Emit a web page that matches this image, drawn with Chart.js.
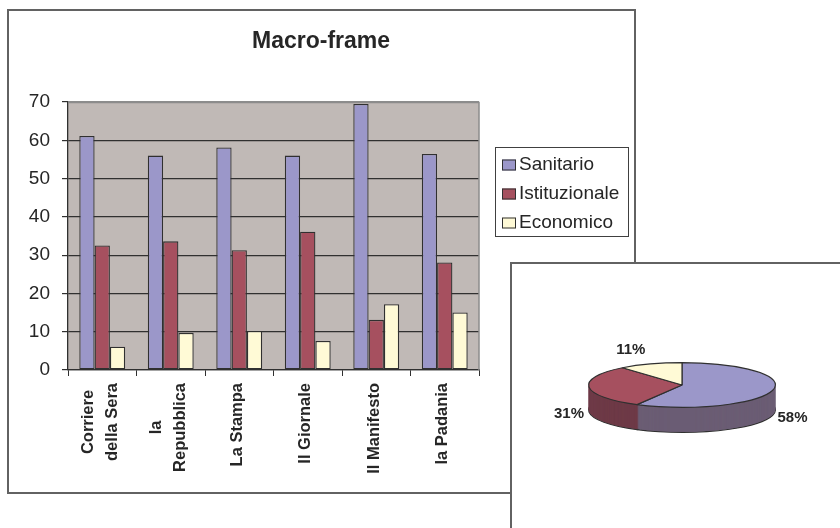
<!DOCTYPE html>
<html>
<head>
<meta charset="utf-8">
<script src="https://cdn.jsdelivr.net/npm/chart.js@4/dist/chart.umd.min.js"></script>
<style>
  html, body { margin:0; padding:0; background:#fff; width:840px; height:528px; overflow:hidden; }
  #barBox { position:absolute; left:7px; top:9px; width:629px; height:485px; box-sizing:border-box; border:2px solid #626262; background:#fff; z-index:0; }
  #barCanvas { position:absolute; left:0; top:0; z-index:1; }
  #pieBox { position:absolute; left:510px; top:262px; width:400px; height:400px; box-sizing:border-box; border:2px solid #626262; background:#fff; z-index:2; }
  #pieCanvas { position:absolute; left:511px; top:263px; z-index:3; }
</style>
</head>
<body>
<div id="barBox"></div>
<canvas id="barCanvas" width="840" height="528"></canvas>
<div id="pieBox"></div>
<canvas id="pieCanvas" width="329" height="265"></canvas>
<script>
// ---------- data ----------
const categories = [['Corriere', 'della Sera'], ['la', 'Repubblica'], ['La Stampa'], ['Il Giornale'], ['Il Manifesto'], ['la Padania']];
const seriesNames = ['Sanitario', 'Istituzionale', 'Economico'];
const sanitario     = [61.1, 56.0, 58.1, 56.0, 69.5, 56.4];
const istituzionale = [32.5, 33.6, 31.3, 36.1, 13.1, 28.1];
const economico     = [6.1, 9.7, 10.2, 7.6, 17.2, 15.0];
const yMin = 0, yMax = 70, yStep = 10;
const chartTitle = 'Macro-frame';
const pieLabels = ['Sanitario', 'Istituzionale', 'Economico'];
const pieShares = [58, 31, 11];

// ---------- styles ----------
const FONT = '"Liberation Sans", Arial, Helvetica, sans-serif';
const TEXT = '#262626';
const LINE = '#303030';
const fills = ['#9b97c9', '#a6505f', '#fffad6'];
const sideFills = ['#6b5d74', '#6e3a47', '#b0ad90'];
const plotBg = '#c0b9b6';

// ---------- bar chart ----------
const barDecor = {
  id: 'barDecor',
  beforeDraw(chart) {
    const { ctx, chartArea: a } = chart;
    ctx.save();
    ctx.fillStyle = plotBg;
    ctx.fillRect(a.left, a.top, a.right - a.left, a.bottom - a.top);
    ctx.restore();
  },
  afterDraw(chart) {
    const { ctx, chartArea: a } = chart;
    ctx.save();
    // plot frame (top/right)
    ctx.strokeStyle = '#8c8c8c';
    ctx.lineWidth = 1.5;
    ctx.beginPath();
    ctx.moveTo(a.left, a.top + 0.5);
    ctx.lineTo(a.right, a.top + 0.5);
    ctx.lineTo(a.right, a.bottom);
    ctx.stroke();

    // title
    ctx.fillStyle = TEXT;
    ctx.font = 'bold 23px ' + FONT;
    ctx.textAlign = 'center';
    ctx.textBaseline = 'alphabetic';
    ctx.fillText(chartTitle, 321, 47.5);

    // legend
    const lx = 495, ly = 147, lw = 134, lh = 90;
    ctx.fillStyle = '#fff';
    ctx.fillRect(lx, ly, lw, lh);
    ctx.strokeStyle = '#404040';
    ctx.lineWidth = 1;
    ctx.strokeRect(lx + 0.5, ly + 0.5, lw - 1, lh - 1);
    ctx.font = '19px ' + FONT;
    ctx.textAlign = 'left';
    chart.data.datasets.forEach((ds, i) => {
      const base = 169.5 + i * 29;
      ctx.fillStyle = ds.backgroundColor;
      ctx.fillRect(502, base - 10, 14, 11);
      ctx.strokeStyle = LINE;
      ctx.lineWidth = 1;
      ctx.strokeRect(502.5, base - 9.5, 13, 10);
      ctx.fillStyle = TEXT;
      ctx.fillText(ds.label, 519, base);
    });

    // category labels (rotated, lines centred)
    const xs = chart.scales.x;
    ctx.font = 'bold 16.5px ' + FONT;
    ctx.fillStyle = TEXT;
    categories.forEach((lines, i) => {
      const cx = xs.getPixelForValue(i) - 2;
      const maxW = Math.max(...lines.map(l => ctx.measureText(l).width));
      const cy = a.bottom + 13 + maxW / 2;
      lines.forEach((l, j) => {
        ctx.save();
        ctx.translate(cx + (j - (lines.length - 1) / 2) * 24, cy);
        ctx.rotate(-Math.PI / 2);
        ctx.textAlign = 'center';
        ctx.textBaseline = 'middle';
        ctx.fillText(l, 0, 0);
        ctx.restore();
      });
    });
    ctx.restore();
  }
};

const seriesValues = [sanitario, istituzionale, economico];
new Chart(document.getElementById('barCanvas'), {
  type: 'bar',
  data: {
    labels: categories.map(c => c.join(' ')),
    datasets: seriesNames.map((name, i) => ({
      label: name,
      data: seriesValues[i],
      backgroundColor: fills[i],
      borderColor: LINE,
      borderWidth: 1.3,
      borderSkipped: false,
      categoryPercentage: 0.67,
      barPercentage: 1.0
    }))
  },
  options: {
    responsive: false,
    animation: false,
    events: [],
    layout: { padding: { left: 28, right: 361, top: 102, bottom: 158 } },
    plugins: { legend: { display: false }, title: { display: false }, tooltip: { enabled: false } },
    scales: {
      x: {
        offset: true,
        grid: { display: true, drawOnChartArea: false, drawTicks: true, tickLength: 6, tickColor: LINE, offset: true },
        border: { display: true, color: LINE, width: 1.3 },
        ticks: { display: false },
        afterFit(scale) { scale.height = 0; }
      },
      y: {
        min: yMin, max: yMax,
        ticks: { stepSize: yStep, color: TEXT, padding: 12, font: { family: FONT, size: 19 } },
        grid: {
          color: ctx => (ctx.tick && ctx.tick.value === yMax) ? '#8c8c8c' : LINE,
          lineWidth: 1.2, drawTicks: true, tickLength: 6, tickColor: LINE
        },
        border: { display: true, color: LINE, width: 1.3 },
        afterFit(scale) { scale.width = 40; }
      }
    }
  },
  plugins: [barDecor]
});

// ---------- 3D pie ----------
const pie3d = {
  id: 'pie3d',
  beforeDatasetsDraw(chart, args, opts) {
    const ctx = chart.ctx;
    const meta = chart.getDatasetMeta(0);
    const cx = meta.data[0].x, cy = meta.data[0].y;
    const dpr = chart.currentDevicePixelRatio || 1;
    const origStroke = ctx.stroke;
    ctx.stroke = function (...p) {
      this.save();
      this.setTransform(dpr, 0, 0, dpr, 0, 0);
      origStroke.apply(this, p);
      this.restore();
    };
    chart.$origStroke = origStroke;
    ctx.save();
    ctx.translate(cx, cy);
    ctx.scale(1, opts.k);
    ctx.translate(-cx, -cy);
    for (let d = opts.depth; d >= 1; d -= 0.5) {
      ctx.save();
      ctx.translate(0, d / opts.k);
      meta.data.forEach((el, i) => {
        const o = el.options;
        el.options = Object.assign({}, o, {
          backgroundColor: opts.side[i],
          borderWidth: d === opts.depth ? 1.2 : 0,
          borderColor: LINE
        });
        el.draw(ctx);
        el.options = o;
      });
      ctx.restore();
    }
  },
  afterDatasetsDraw(chart, args, opts) {
    const ctx = chart.ctx;
    ctx.restore();
    ctx.stroke = chart.$origStroke;
    delete ctx.stroke;
    // percentage labels
    const meta = chart.getDatasetMeta(0);
    const total = pieShares.reduce((s, v) => s + v, 0);
    ctx.save();
    ctx.font = 'bold 15px ' + FONT;
    ctx.fillStyle = TEXT;
    meta.data.forEach((el, i) => {
      const mid = (el.startAngle + el.endAngle) / 2;
      const c = Math.cos(mid), s = Math.sin(mid);
      const rx = el.outerRadius, ry = el.outerRadius * opts.k;
      const ax = el.x + c * rx, ay = el.y + s * ry;
      ctx.textAlign = c >= 0 ? 'left' : 'right';
      const x = ax + (c >= 0 ? 5 : -5);
      let y;
      if (s > 0) { ctx.textBaseline = 'middle'; y = ay + opts.depth + 2; }
      else { ctx.textBaseline = 'alphabetic'; y = ay - 10; }
      ctx.fillText(Math.round(pieShares[i] / total * 100) + '%', x, y);
    });
    ctx.restore();
  }
};

new Chart(document.getElementById('pieCanvas'), {
  type: 'pie',
  data: {
    labels: pieLabels,
    datasets: [{ data: pieShares, backgroundColor: fills, borderColor: LINE, borderWidth: 1.2, clip: false }]
  },
  options: {
    responsive: false,
    animation: false,
    events: [],
    layout: { padding: { left: 77, right: 64, top: 28, bottom: 49 } },
    plugins: {
      legend: { display: false },
      tooltip: { enabled: false },
      pie3d: { k: 0.2394, depth: 25, side: sideFills }
    }
  },
  plugins: [pie3d]
});
</script>
</body>
</html>
